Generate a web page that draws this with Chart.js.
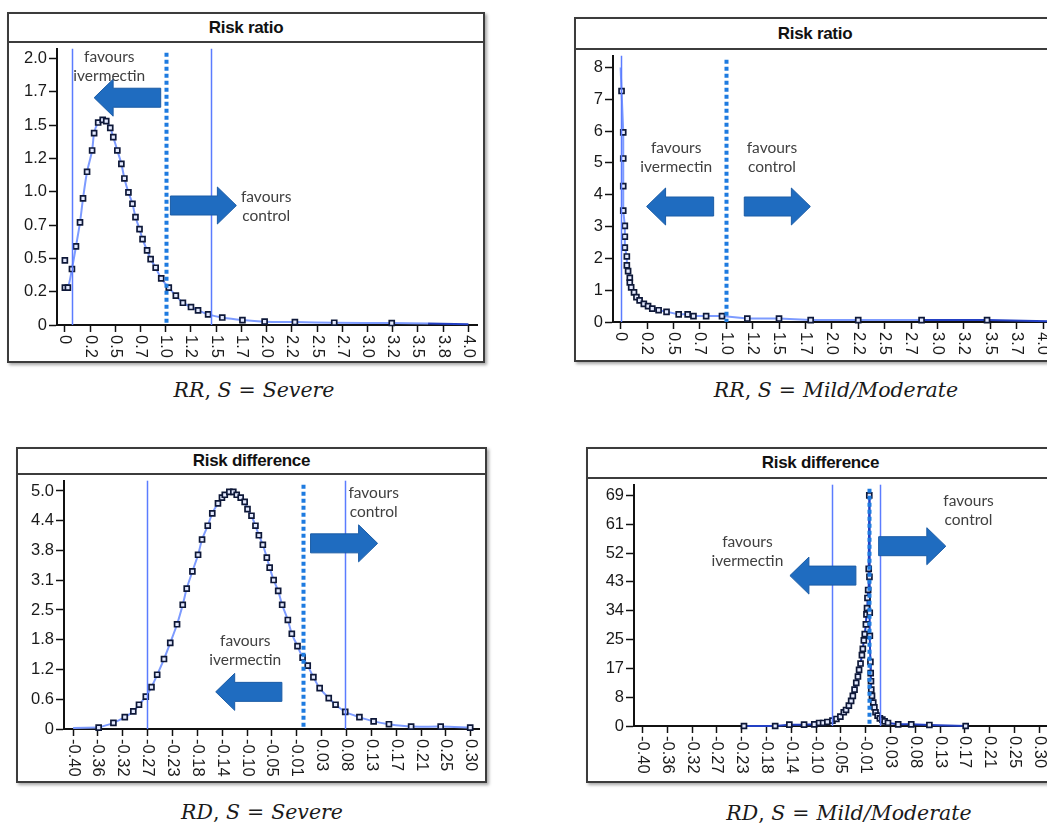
<!DOCTYPE html>
<html>
<head>
<meta charset="utf-8">
<script src="https://cdn.jsdelivr.net/npm/chart.js@4.4.1/dist/chart.umd.min.js"></script>
<style>
html, body { margin: 0; overflow: hidden; background: #fff; }
body { width: 1047px; height: 823px; position: relative; }
.box { position: absolute; box-sizing: border-box; border: 2px solid #3c3c3c; box-shadow: 2px 2px 3px rgba(0,0,0,.35); background: #fff; }
.ttl { box-sizing: border-box; border-bottom: 2px solid #3c3c3c; font: bold 17px "Liberation Sans", Arial, sans-serif; letter-spacing: -0.3px; text-align: center; color: #111; }
.box canvas { display: block; }
.cap { position: absolute; transform: translateX(-50%); font: italic 20.5px "DejaVu Serif", serif; white-space: nowrap; color: #1a1a1a; line-height: 24px; }
.cap .u { font-style: normal; }
.cap .eq { font-style: normal; margin: 0 7px; }
</style>
</head>
<body>
<div class="cap" style="left:254px;top:378px"><span>RR</span><span class="u">,</span> S<span class="eq">=</span>Severe</div>
<div class="cap" style="left:836px;top:378px"><span>RR</span><span class="u">,</span> S<span class="eq">=</span>Mild/Moderate</div>
<div class="cap" style="left:262px;top:800px"><span>RD</span><span class="u">,</span> S<span class="eq">=</span>Severe</div>
<div class="cap" style="left:849px;top:801px"><span>RD</span><span class="u">,</span> S<span class="eq">=</span>Mild/Moderate</div>
<script>
// ---- data ----
// risk ratio, severe
const rrSevereX = [0, 0, 0.03, 0.07, 0.11, 0.15, 0.18, 0.22, 0.27, 0.29, 0.33, 0.375, 0.41, 0.45, 0.48, 0.52, 0.56, 0.59, 0.63, 0.67,
  0.70, 0.74, 0.77, 0.815, 0.85, 0.90, 0.955, 1.03, 1.10, 1.17, 1.25, 1.32, 1.42, 1.56, 1.76, 1.98, 2.28, 2.67, 3.24];
const rrSevereY = [0.485, 0.28, 0.28, 0.42, 0.59, 0.77, 0.95, 1.15, 1.31, 1.44, 1.52, 1.54, 1.53, 1.48, 1.41, 1.31, 1.21, 1.10, 0.995, 0.91,
  0.81, 0.72, 0.645, 0.56, 0.495, 0.43, 0.35, 0.28, 0.22, 0.167, 0.135, 0.11, 0.08, 0.056, 0.037, 0.025, 0.022, 0.017, 0.015];
const rrSevereTailX = [3.24, 3.6, 4.0];
const rrSevereTailY = [0.015, 0.012, 0.005];

// risk ratio, mild/moderate
const rrMildX = [0.009, 0.025, 0.025, 0.025, 0.025, 0.04, 0.04, 0.04, 0.059, 0.059, 0.071, 0.087, 0.087, 0.10, 0.127, 0.15, 0.18, 0.22, 0.26, 0.30,
  0.36, 0.435, 0.55, 0.635, 0.69, 0.81, 0.96, 1.20, 1.50, 1.80, 2.25, 2.85, 3.47];
const rrMildY = [7.26, 5.96, 5.14, 4.27, 3.50, 3.02, 2.68, 2.34, 2.06, 1.78, 1.60, 1.39, 1.24, 1.09, 0.93, 0.78, 0.68, 0.57, 0.50, 0.42,
  0.37, 0.32, 0.24, 0.24, 0.185, 0.185, 0.185, 0.11, 0.11, 0.06, 0.06, 0.06, 0.06];
const rrMildLeadX = [0.0, 0.009];
const rrMildLeadY = [8.0, 7.26];
const rrMildTailX = [3.47, 4.05];
const rrMildTailY = [0.06, 0.02];

// risk difference, severe
const rdSevereX = [-0.355, -0.329, -0.309, -0.294, -0.284, -0.272, -0.262, -0.252, -0.240, -0.229, -0.217, -0.207, -0.200, -0.190, -0.180,
  -0.173, -0.163, -0.155, -0.145, -0.138, -0.133, -0.125, -0.118, -0.112, -0.105, -0.098, -0.093, -0.086, -0.079, -0.073, -0.066,
  -0.059, -0.054, -0.047, -0.039, -0.032, -0.022, -0.015, -0.005, 0.004, 0.013, 0.023, 0.034, 0.050, 0.062, 0.079, 0.104, 0.129,
  0.156, 0.195, 0.247, 0.299];
const rdSevereY = [0.03, 0.13, 0.25, 0.37, 0.51, 0.68, 0.88, 1.14, 1.47, 1.81, 2.20, 2.61, 2.95, 3.31, 3.66,
  3.98, 4.27, 4.53, 4.74, 4.86, 4.92, 4.98, 4.98, 4.92, 4.86, 4.77, 4.62, 4.48, 4.27, 4.07, 3.87,
  3.60, 3.39, 3.13, 2.90, 2.61, 2.29, 2.00, 1.74, 1.50, 1.33, 1.09, 0.86, 0.65, 0.51, 0.36, 0.25, 0.16,
  0.10, 0.05, 0.05, 0.03];
const rdSevereLeadX = [-0.40, -0.355];
const rdSevereLeadY = [0.02, 0.03];

// risk difference, mild/moderate
const rdMildX = [-0.221, -0.166, -0.141, -0.115, -0.097, -0.0885, -0.0815, -0.074, -0.065, -0.058, -0.051, -0.045, -0.041, -0.036, -0.032,
  -0.029, -0.026, -0.023, -0.020, -0.018, -0.0154, -0.013, -0.0114, -0.0096, -0.008, -0.006, -0.005, -0.004, -0.0032, -0.002, -0.001,
  0.0, 0.0003, 0.0008, 0.001, 0.002, 0.0025, 0.003, 0.0035, 0.0048, 0.007, 0.009, 0.011, 0.0147, 0.0187, 0.023, 0.027, 0.033,
  0.051, 0.074, 0.106, 0.17];
const rdMildY = [0, 0, 0.4, 0.4, 0.5, 0.9, 0.9, 1.2, 1.6, 2.1, 2.8, 4.1, 4.8, 6.1, 7.5,
  9.0, 10.9, 12.9, 14.8, 16.8, 18.7, 21.2, 23.1, 25.6, 27.5, 30.4, 33.4, 35.3, 38.3, 40.7, 47.0,
  69.0, 44.6, 33.9, 27.0, 19.2, 15.8, 13.4, 10.9, 9.0, 7.0, 5.6, 4.1, 3.1, 2.3, 1.9, 1.4, 0.9,
  0.5, 0.5, 0.3, 0];

// tick labels
const rrSevereXLabels = ['0', '0.2', '0.5', '0.7', '1.0', '1.2', '1.5', '1.7', '2.0', '2.2', '2.5', '2.7', '3.0', '3.2', '3.5', '3.8', '4.0'];
const rrMildXLabels = ['0', '0.2', '0.5', '0.7', '1.0', '1.2', '1.5', '1.7', '2.0', '2.2', '2.5', '2.7', '3.0', '3.2', '3.5', '3.7', '4.0'];
const rdXLabels = ['-0.40', '-0.36', '-0.32', '-0.27', '-0.23', '-0.18', '-0.14', '-0.10', '-0.05', '-0.01', '0.03', '0.08', '0.13', '0.17', '0.21', '0.25', '0.30'];
const rrSevereYLabels = ['0', '0.2', '0.5', '0.7', '1.0', '1.2', '1.5', '1.7', '2.0'];
const rrMildYLabels = ['0', '1', '2', '3', '4', '5', '6', '7', '8'];
const rdSevereYLabels = ['0', '0.6', '1.2', '1.8', '2.5', '3.1', '3.8', '4.4', '5.0'];
const rdMildYLabels = ['0', '8', '17', '25', '34', '43', '52', '61', '69'];

// ---- styles ----
const curveColor = '#7d9bff';
const darkLine = '#2340c4';
const refLine = '#5b7cff';
const dotLine = '#1e7be0';
const arrowFill = '#1f6cc0';
const tickFont = '16.5px "Liberation Sans", Arial, sans-serif';

const pts = (xs, ys) => xs.map((x, i) => ({ x: x, y: ys[i] }));

function drawArrow(ctx, tipX, tailX, cy) {
  const dir = tipX > tailX ? 1 : -1;
  const headLen = 19, bh = 19, hh = 37;
  const neck = tipX - dir * headLen;
  ctx.beginPath();
  ctx.moveTo(tailX, cy - bh / 2);
  ctx.lineTo(neck, cy - bh / 2);
  ctx.lineTo(neck, cy - hh / 2);
  ctx.lineTo(tipX, cy);
  ctx.lineTo(neck, cy + hh / 2);
  ctx.lineTo(neck, cy + bh / 2);
  ctx.lineTo(tailX, cy + bh / 2);
  ctx.closePath();
  ctx.fillStyle = arrowFill;
  ctx.fill();
  ctx.strokeStyle = '#1b5ca6';
  ctx.lineWidth = 1;
  ctx.stroke();
}

function decor(d) {
  return {
    id: 'decor',
    afterDatasetsDraw(chart) {
      const ctx = chart.ctx, xs = chart.scales.x, ys = chart.scales.y, a = chart.chartArea;
      ctx.save();
      d.vlines.forEach(v => {
        const px = Math.round(xs.getPixelForValue(v.x)) + 0.5;
        ctx.beginPath();
        if (v.dotted) {
          ctx.setLineDash([4, 3]);
          ctx.lineWidth = 4;
          ctx.strokeStyle = dotLine;
          ctx.moveTo(px, a.top + 4);
        } else {
          ctx.setLineDash([]);
          ctx.lineWidth = 1.5;
          ctx.strokeStyle = refLine;
          ctx.moveTo(px, a.top);
        }
        ctx.lineTo(px, a.bottom);
        ctx.stroke();
      });
      ctx.setLineDash([]);
      d.arrows.forEach(ar => {
        drawArrow(ctx, xs.getPixelForValue(ar.tip), xs.getPixelForValue(ar.tail), ys.getPixelForValue(ar.y));
      });
      ctx.font = '15.5px Lato, "Open Sans", sans-serif';
      ctx.fillStyle = '#404040';
      ctx.textAlign = 'center';
      ctx.textBaseline = 'middle';
      d.texts.forEach(t => {
        const px = xs.getPixelForValue(t.x), py = ys.getPixelForValue(t.y);
        t.lines.forEach((s, i) => ctx.fillText(s, px, py + i * 19));
      });
      ctx.restore();
    },
    afterDraw(chart) {
      const ctx = chart.ctx, xs = chart.scales.x;
      ctx.save();
      ctx.font = tickFont;
      ctx.fillStyle = '#1a1a1a';
      ctx.textAlign = 'left';
      ctx.textBaseline = 'middle';
      xs.ticks.forEach((t, i) => {
        ctx.save();
        ctx.translate(xs.getPixelForValue(t.value), xs.top + 10);
        ctx.rotate(Math.PI / 2);
        ctx.fillText(d.xLabels[i], 0, 0);
        ctx.restore();
      });
      ctx.restore();
    }
  };
}

function panel(p) {
  const box = document.createElement('div');
  box.className = 'box';
  box.style.left = p.box[0] + 'px';
  box.style.top = p.box[1] + 'px';
  box.style.width = p.box[2] + 'px';
  box.style.height = p.box[3] + 'px';
  const t = document.createElement('div');
  t.className = 'ttl';
  t.textContent = p.title;
  t.style.height = (p.titleH + 2) + 'px';
  t.style.lineHeight = p.titleH + 'px';
  box.appendChild(t);
  const cw = p.box[2] - 4, ch = p.box[3] - 6 - p.titleH;
  const cv = document.createElement('canvas');
  cv.width = cw; cv.height = ch;
  cv.style.width = cw + 'px'; cv.style.height = ch + 'px';
  box.appendChild(cv);
  document.body.appendChild(box);

  const canvasLeft = p.box[0] + 2, canvasTop = p.box[1] + 4 + p.titleH;
  const yW = p.axisX - canvasLeft;
  const xH = ch - (p.axisY - canvasTop);

  const axisCommon = {
    type: 'linear',
    border: { display: true, color: '#111', width: 2 },
    grid: { display: true, drawOnChartArea: false, drawTicks: true, tickColor: '#111', tickWidth: 1.5 }
  };

  new Chart(cv, {
    type: 'scatter',
    data: { datasets: p.datasets },
    options: {
      responsive: false,
      animation: false,
      devicePixelRatio: 1,
      layout: { padding: 0 },
      plugins: { legend: { display: false }, tooltip: { enabled: false } },
      scales: {
        x: Object.assign({}, axisCommon, {
          min: p.xRange[0], max: p.xRange[1],
          grid: Object.assign({}, axisCommon.grid, { tickLength: 7 }),
          ticks: { display: false },
          afterBuildTicks: s => { s.ticks = p.xTicks.map(v => ({ value: v })); },
          afterFit: s => { s.height = xH; s.paddingLeft = 0; s.paddingRight = 0; }
        }),
        y: Object.assign({}, axisCommon, {
          min: p.yRange[0], max: p.yRange[1],
          grid: Object.assign({}, axisCommon.grid, { tickLength: 8 }),
          ticks: {
            autoSkip: false, padding: 2, color: '#1a1a1a',
            font: { family: '"Liberation Sans", Arial, sans-serif', size: 16.5 },
            callback: (v, i) => p.yLabels[i]
          },
          afterBuildTicks: s => { s.ticks = p.yTicks.map(v => ({ value: v })); },
          afterFit: s => { s.width = yW; s.paddingTop = 0; s.paddingBottom = 0; }
        })
      }
    },
    plugins: [decor(p.decor)]
  });
}

const markerStyle = {
  showLine: true,
  borderColor: curveColor,
  borderWidth: 2,
  pointStyle: 'rect',
  pointRadius: 3.5,
  pointBorderWidth: 1.7,
  pointBorderColor: '#0e1838',
  pointBackgroundColor: '#e4eaff',
  clip: false
};
const plainLine = (data, color) => ({ data: data, showLine: true, borderColor: color, borderWidth: 2, pointRadius: 0, clip: false });

// Risk ratio, severe
panel({
  title: 'Risk ratio', box: [7, 12, 478, 351], titleH: 27, axisX: 57, axisY: 325,
  xRange: [-0.078, 4.088], yRange: [0, 2.074],
  xTicks: rrSevereXLabels.map((_, i) => i * 0.25), xLabels: rrSevereXLabels,
  yTicks: rrSevereYLabels.map((_, i) => i * 0.25), yLabels: rrSevereYLabels,
  datasets: [
    Object.assign({}, markerStyle, {
      data: pts(rrSevereX, rrSevereY), tension: 0.3,
      segment: { borderColor: c => c.p0DataIndex < 2 ? 'rgba(0,0,0,0)' : undefined }
    }),
    Object.assign(plainLine(pts(rrSevereTailX, rrSevereTailY), darkLine), {
      segment: { borderColor: c => c.p0DataIndex === 0 ? curveColor : undefined }
    })
  ],
  decor: {
    xLabels: rrSevereXLabels,
    vlines: [{ x: 0.07 }, { x: 1.0, dotted: true }, { x: 1.447 }],
    arrows: [{ tip: 0.29, tail: 0.95, y: 1.706 }, { tail: 1.046, tip: 1.70, y: 0.897 }],
    texts: [{ x: 0.44, y: 2.015, lines: ['favours', 'ivermectin'] }, { x: 1.995, y: 0.963, lines: ['favours', 'control'] }]
  }
});

// Risk ratio, mild/moderate
panel({
  title: 'Risk ratio', box: [574, 17, 482, 345], titleH: 29, axisX: 613, axisY: 322,
  xRange: [-0.072, 4.05], yRange: [0, 8.37],
  xTicks: rrMildXLabels.map((_, i) => i * 0.25), xLabels: rrMildXLabels,
  yTicks: rrMildYLabels.map((_, i) => i), yLabels: rrMildYLabels,
  datasets: [
    Object.assign({}, markerStyle, {
      data: pts(rrMildX, rrMildY), tension: 0,
      segment: { borderColor: c => c.p0.parsed.x >= 2.85 ? darkLine : undefined }
    }),
    plainLine(pts(rrMildLeadX, rrMildLeadY), curveColor),
    plainLine(pts(rrMildTailX, rrMildTailY), darkLine)
  ],
  decor: {
    xLabels: rrMildXLabels,
    vlines: [{ x: 0.0 }, { x: 1.0, dotted: true }],
    arrows: [{ tip: 0.246, tail: 0.881, y: 3.63 }, { tail: 1.171, tip: 1.797, y: 3.63 }],
    texts: [{ x: 0.526, y: 5.48, lines: ['favours', 'ivermectin'] }, { x: 1.433, y: 5.48, lines: ['favours', 'control'] }]
  }
});

// Risk difference, severe
panel({
  title: 'Risk difference', box: [16, 447, 471, 336], titleH: 24, axisX: 64, axisY: 729,
  xRange: [-0.416, 0.315], yRange: [0, 5.216],
  xTicks: rdXLabels.map((_, i) => -0.40 + i * 0.04375), xLabels: rdXLabels,
  yTicks: rdSevereYLabels.map((_, i) => i * 0.625), yLabels: rdSevereYLabels,
  datasets: [
    Object.assign({}, markerStyle, { data: pts(rdSevereX, rdSevereY), tension: 0.3 }),
    plainLine(pts(rdSevereLeadX, rdSevereLeadY), curveColor)
  ],
  decor: {
    xLabels: rdXLabels,
    vlines: [{ x: -0.27 }, { x: 0.005, dotted: true }, { x: 0.079 }],
    arrows: [{ tail: 0.018, tip: 0.136, y: 3.90 }, { tip: -0.149, tail: -0.0325, y: 0.78 }],
    texts: [{ x: 0.129, y: 4.95, lines: ['favours', 'control'] }, { x: -0.097, y: 1.85, lines: ['favours', 'ivermectin'] }]
  }
});

// Risk difference, mild/moderate
panel({
  title: 'Risk difference', box: [586, 447, 469, 336], titleH: 28, axisX: 634, axisY: 726,
  xRange: [-0.415, 0.314], yRange: [0, 72.2],
  xTicks: rdXLabels.map((_, i) => -0.40 + i * 0.04375), xLabels: rdXLabels,
  yTicks: rdMildYLabels.map((_, i) => i * 8.625), yLabels: rdMildYLabels,
  datasets: [
    Object.assign({}, markerStyle, { data: pts(rdMildX, rdMildY), tension: 0, borderColor: darkLine })
  ],
  decor: {
    xLabels: rdXLabels,
    vlines: [{ x: -0.065 }, { x: 0.0003, dotted: true }, { x: 0.019 }],
    arrows: [{ tip: -0.140, tail: -0.0236, y: 45.0 }, { tail: 0.0165, tip: 0.135, y: 53.8 }],
    texts: [{ x: -0.215, y: 55.2, lines: ['favours', 'ivermectin'] }, { x: 0.175, y: 67.2, lines: ['favours', 'control'] }]
  }
});
</script>
</body>
</html>
